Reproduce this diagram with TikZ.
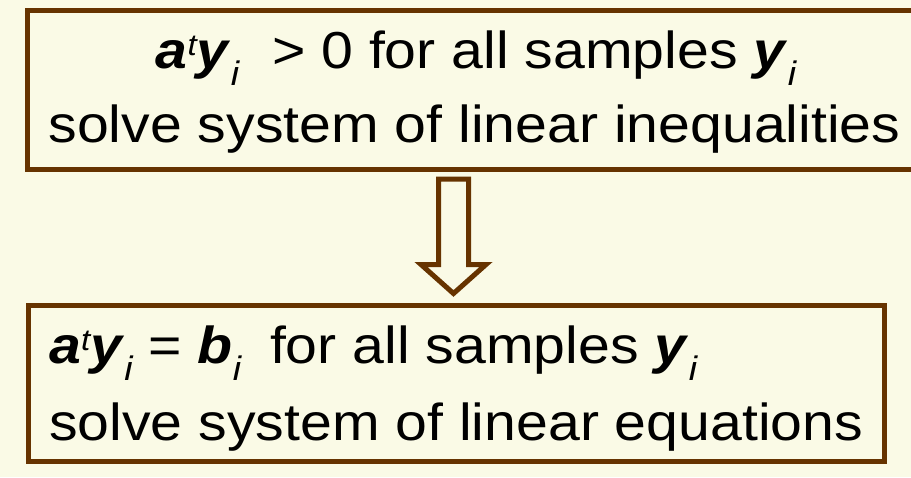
\documentclass[tikz,border=0pt]{standalone}
\usepackage{fontspec}
\setmainfont{Liberation Sans}[FakeStretch=1.1]
\usetikzlibrary{calc}
\definecolor{bgcream}{RGB}{250,250,230}
\definecolor{boxbrown}{RGB}{102,51,0}
\newcommand{\bv}[1]{\textbf{\textit{#1}}}
\newcommand{\supt}[1]{\raisebox{13pt}{\fontsize{30pt}{30pt}\selectfont\itshape #1}}
\newcommand{\subi}[1]{\raisebox{-17pt}{\fontsize{34pt}{34pt}\selectfont\itshape #1}}
\tikzset{
  stepbox/.style={draw=boxbrown, line width=5pt, fill=bgcream, rectangle, inner sep=0pt},
  linetext/.style={inner sep=0pt, font=\fontsize{52pt}{60pt}\selectfont, text=black},
  blockarrow/.style={draw=boxbrown, line width=5pt, fill=bgcream, line join=miter}
}
\begin{document}
\begin{tikzpicture}[x=1pt,y=-1pt]
\useasboundingbox (0,0) rectangle (911,477);
\fill[bgcream] (0,0) rectangle (911,477);
% boxes
\node[stepbox, minimum width=894.5pt, minimum height=158.5pt] (topbox) at (474.75,89.75) {};
\node[stepbox, minimum width=856pt, minimum height=156.5pt] (botbox) at (456,383.25) {};
% texts
\node[linetext, anchor=base] (t1) at (476,68)
  {\bv{a}\supt{t}\bv{y}\subi{i}\hspace{17pt} > 0 for all samples \bv{y}\subi{i}};
\node[linetext, anchor=base] (t2) at (474.5,142) {solve system of linear inequalities};
\node[linetext, anchor=base west] (b1) at (49,363)
  {\bv{a}\supt{t}\bv{y}\subi{i} = \bv{b}\subi{i}\hspace{13pt} for all samples \bv{y}\subi{i}};
\node[linetext, anchor=base west] (b2) at (49,440) {solve system of linear equations};
% hollow block arrow
\coordinate (atop) at ($(topbox.south)+(-21.25,7.5)$);
\coordinate (atip) at ($(botbox.north)+(-2.5,-9)$);
\coordinate (hb) at ($(atip)+(0,-29)$);
\draw[blockarrow] ($(atop)+(-15,0)$) -- ($(atop|-hb)+(-15,0)$) -- ($(hb)+(-32.5,0)$)
  -- (atip) -- ($(hb)+(32.5,0)$) -- ($(atop|-hb)+(15,0)$) -- ($(atop)+(15,0)$) -- cycle;
\end{tikzpicture}
\end{document}
